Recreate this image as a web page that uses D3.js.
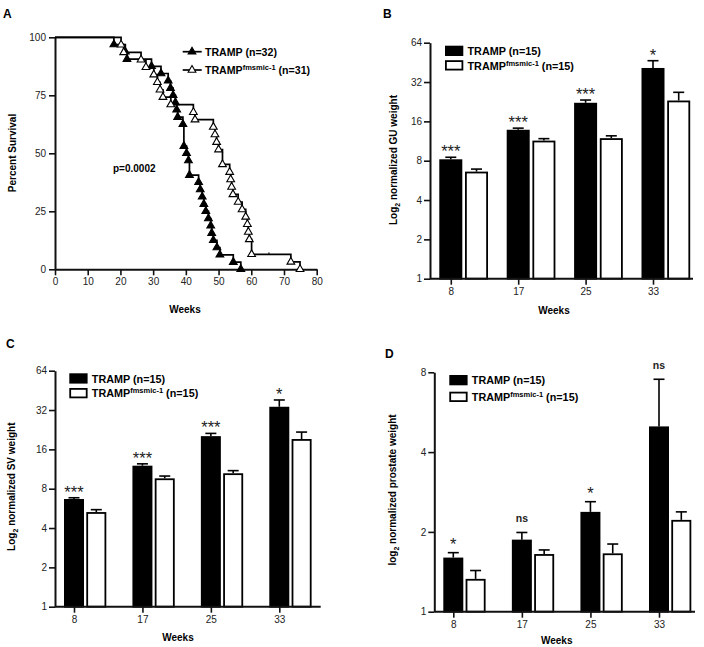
<!DOCTYPE html>
<html>
<head>
<meta charset="utf-8">
<script src="https://cdn.jsdelivr.net/npm/d3@7"></script>
<style>
body { margin: 0; background: #fff; }
svg { font-family: "Liberation Sans", Arial, Helvetica, sans-serif; }
</style>
</head>
<body>
<svg width="704" height="647"></svg>
<script>
// ---- panel A: survival (step events)
const trampTimes = [18, 21.5, 22, 29.5, 32.4, 34.6, 35.3, 36.1, 36.8, 37.2, 37.5, 39.1, 39.4, 40.2, 40.8, 41.1, 43.9, 44.4, 45.0, 45.5, 46.1, 46.9, 47.6, 47.9, 48.4, 49.5, 50.4, 54.5, 56.8]
const trampSurv = [96.9, 93.75, 90.6, 87.5, 84.4, 81.25, 78.1, 75, 71.9, 68.75, 65.6, 62.5, 53.1, 50, 46.9, 40.6, 37.5, 34.4, 31.25, 28.1, 25, 21.9, 18.75, 15.6, 12.5, 9.4, 6.25, 3.1, 0]
const koTimes = [20.2, 21.0, 26.3, 27.8, 30.2, 31.3, 32.1, 33.0, 35.4, 42.3, 42.8, 48.4, 48.9, 49.4, 50.0, 51.2, 53.4, 53.7, 54.0, 54.4, 56.0, 57.2, 58.3, 58.8, 59.1, 59.4, 60.1, 72.1, 74.9]
const koSurv = [96.8, 93.5, 90.3, 87.1, 83.9, 80.6, 77.4, 74.2, 71.0, 67.7, 64.5, 61.3, 58.1, 54.8, 51.6, 45.2, 41.9, 38.7, 35.5, 32.3, 29.0, 25.8, 22.6, 19.4, 16.1, 12.9, 6.45, 3.2, 0]
const koCensorTimes = [65.4]
const koCensorSurv = [6.45]
const survXTicks = [0, 10, 20, 30, 40, 50, 60, 70, 80]
const survYTicks = [0, 25, 50, 75, 100]
const pValue = 'p=0.0002'

// ---- panels B-D: bars
const weeks = [8, 17, 25, 33]
const guTramp = [8.2, 13.8, 22.2, 41.0]
const guTrampSem = [0.3, 0.4, 1.1, 5.6]
const guKo = [6.6, 11.4, 11.9, 23.1]
const guKoSem = [0.3, 0.4, 0.5, 3.6]
const guSig = ['***', '***', '***', '*']

const svTramp = [6.67, 12.0, 20.2, 33.9]
const svTrampSem = [0.15, 0.4, 1.0, 4.3]
const svKo = [5.3, 9.6, 10.5, 19.2]
const svKoSem = [0.23, 0.4, 0.5, 2.5]
const svSig = ['***', '***', '***', '*']

const prTramp = [1.60, 1.87, 2.38, 5.0]
const prTrampSem = [0.07, 0.12, 0.22, 2.53]
const prKo = [1.33, 1.65, 1.66, 2.22]
const prKoSem = [0.10, 0.06, 0.14, 0.16]
const prSig = ['*', 'ns', '*', 'ns']

const log2Ticks = [1, 2, 4, 8, 16, 32, 64]
const log2TicksSmall = [1, 2, 4, 8]

const svg = d3.select('svg')

const styleAxis = g => {
	g.select('.domain').attr('stroke', '#111').attr('stroke-width', 2)
	g.selectAll('.tick line').attr('stroke', '#111').attr('stroke-width', 1.6)
	g.selectAll('.tick text').attr('font-size', 10).attr('fill', '#222').attr('font-family', null)
}

const panelLabel = (t, x, y) => svg.append('text')
	.attr('x', x).attr('y', y)
	.attr('font-size', 12).attr('font-weight', 'bold')
	.text(t)

// text "TRAMP<sup>fmsmic-1</sup> (n=..)"
const koLabel = (sel, n) => {
	sel.append('tspan').text('TRAMP')
	sel.append('tspan').attr('font-size', 7.5).attr('dy', -4).text('fmsmic-1')
	sel.append('tspan').attr('dy', 4).text(` (n=${n})`)
}

const yTitle = (g, x, y, parts) => {
	const t = g.append('text')
		.attr('transform', `translate(${x},${y}) rotate(-90)`)
		.attr('text-anchor', 'middle')
		.attr('font-size', 10).attr('font-weight', 'bold')
	parts(t)
}

const xTitle = (g, x, y) => g.append('text')
	.attr('x', x).attr('y', y)
	.attr('text-anchor', 'middle')
	.attr('font-size', 10).attr('font-weight', 'bold')
	.text('Weeks')

// ================= A
panelLabel('A', 3, 18)
const ax = d3.scaleLinear().domain([0, 80]).range([55, 316.7])
const ay = d3.scaleLinear().domain([0, 100]).range([269.3, 37.3])
const gA = svg.append('g')

gA.append('g')
	.attr('transform', `translate(0,${ay(0)})`)
	.call(d3.axisBottom(ax).tickValues(survXTicks).tickSize(6).tickSizeOuter(0))
	.call(styleAxis)
gA.append('g')
	.attr('transform', `translate(${ax(0)},0)`)
	.call(d3.axisLeft(ay).tickValues(survYTicks).tickSize(6).tickSizeOuter(0))
	.call(styleAxis)

const stepLine = d3.line().x(d => ax(d[0])).y(d => ay(d[1])).curve(d3.curveStepAfter)
const tri = d3.symbol().type(d3.symbolTriangle).size(26)

const curves = [
	{ t: trampTimes, s: trampSurv, fill: '#000' },
	{ t: koTimes, s: koSurv, fill: '#fff' }
]
curves.forEach(c => {
	const pts = [[0, 100]].concat(c.t.map((t, i) => [t, c.s[i]]))
	gA.append('path')
		.attr('d', stepLine(pts))
		.attr('fill', 'none').attr('stroke', '#000').attr('stroke-width', 1.7)
})
curves.forEach(c => {
	gA.selectAll(null)
		.data(c.t.map((t, i) => [t, c.s[i]]))
		.enter().append('path')
		.attr('d', tri)
		.attr('transform', d => `translate(${ax(d[0])},${ay(d[1])})`)
		.attr('fill', c.fill).attr('stroke', '#000').attr('stroke-width', 1.1)
})
gA.selectAll(null)
	.data(koCensorTimes.map((t, i) => [t, koCensorSurv[i]]))
	.enter().append('line')
	.attr('x1', d => ax(d[0])).attr('x2', d => ax(d[0]))
	.attr('y1', d => ay(d[1]) - 2).attr('y2', d => ay(d[1]))
	.attr('stroke', '#000').attr('stroke-width', 1)

// legend A
const legA = [
	{ fill: '#000', y: 51.7, label: t => t.text('TRAMP (n=32)') },
	{ fill: '#fff', y: 70, label: t => koLabel(t, 31) }
]
legA.forEach(l => {
	gA.append('line').attr('x1', 182.7).attr('x2', 201.7).attr('y1', l.y).attr('y2', l.y)
		.attr('stroke', '#000').attr('stroke-width', 1.7)
	gA.append('path').attr('d', tri).attr('transform', `translate(192,${l.y})`)
		.attr('fill', l.fill).attr('stroke', '#000').attr('stroke-width', 1.1)
	const t = gA.append('text').attr('x', 205).attr('y', l.y + 3.8)
		.attr('font-size', 10.6).attr('font-weight', 'bold')
	l.label(t)
})

gA.append('text').attr('x', 113).attr('y', 172)
	.attr('font-size', 10).attr('font-weight', 'bold').text(pValue)

yTitle(gA, 15.5, 153, t => t.text('Percent Survival'))
xTitle(gA, 185, 313)

// ================= bar panels
const barPanel = cfg => {
	const g = svg.append('g')
	const y = d3.scaleLog().base(2).domain(cfg.yDomain).range([cfg.yBottom, cfg.yTop])
	const x = d3.scalePoint().domain(weeks).range(cfg.xRange)
	const bw = cfg.barW

	const series = [
		{ mean: cfg.black, sem: cfg.blackSem, fill: '#000', dx: -bw / 2 },
		{ mean: cfg.white, sem: cfg.whiteSem, fill: '#fff', dx: bw / 2 + cfg.gap }
	]

	series.forEach(s => {
		const data = weeks.map((w, i) => ({ w, m: s.mean[i], e: s.sem[i] }))
		const cx = d => x(d.w) + s.dx + bw / 2
		// error bars (upper only)
		g.selectAll(null).data(data).enter().append('line')
			.attr('x1', cx).attr('x2', cx)
			.attr('y1', d => y(d.m)).attr('y2', d => y(d.m + d.e))
			.attr('stroke', '#000').attr('stroke-width', 1.6)
		g.selectAll(null).data(data).enter().append('line')
			.attr('x1', d => cx(d) - 5.5).attr('x2', d => cx(d) + 5.5)
			.attr('y1', d => y(d.m + d.e)).attr('y2', d => y(d.m + d.e))
			.attr('stroke', '#000').attr('stroke-width', 1.6)
		g.selectAll(null).data(data).enter().append('rect')
			.attr('x', d => x(d.w) + s.dx + 0.9)
			.attr('width', bw - 1.8)
			.attr('y', d => y(d.m) + 0.9)
			.attr('height', d => y(cfg.yDomain[0]) - y(d.m) - 0.9)
			.attr('fill', s.fill).attr('stroke', '#000').attr('stroke-width', 1.8)
	})

	// significance marks above the TRAMP bars
	g.selectAll(null).data(weeks).enter().append('text')
		.attr('x', w => x(w))
		.attr('y', (w, i) => {
			const top = y(cfg.black[i] + cfg.blackSem[i])
			return cfg.sig[i] === 'ns' ? top - cfg.nsGap : top - cfg.starGap
		})
		.attr('text-anchor', 'middle')
		.attr('font-size', (w, i) => cfg.sig[i] === 'ns' ? 10.5 : 16.5)
		.attr('font-weight', (w, i) => cfg.sig[i] === 'ns' ? 'bold' : null)
		.attr('fill', '#222')
		.text((w, i) => cfg.sig[i])

	// axes
	g.append('line')
		.attr('x1', cfg.axisX).attr('x2', cfg.axisEnd)
		.attr('y1', cfg.yBottom).attr('y2', cfg.yBottom)
		.attr('stroke', '#111').attr('stroke-width', 2)
	g.append('g')
		.attr('transform', `translate(0,${cfg.yBottom})`)
		.call(d3.axisBottom(x).tickSize(6).tickSizeOuter(0))
		.call(styleAxis)
		.call(a => a.select('.domain').remove())
	g.append('g')
		.attr('transform', `translate(${cfg.axisX},0)`)
		.call(d3.axisLeft(y).tickValues(cfg.yTicks).tickFormat(d3.format('d')).tickSize(6).tickPadding(2).tickSizeOuter(0))
		.call(styleAxis)

	// legend
	const leg = [
		{ fill: '#000', y: cfg.legY, label: t => t.text('TRAMP (n=15)') },
		{ fill: '#fff', y: cfg.legY + cfg.legDy, label: t => koLabel(t, 15) }
	]
	leg.forEach(l => {
		g.append('rect').attr('x', cfg.legX + 0.9).attr('y', l.y + 0.9)
			.attr('width', 16.5).attr('height', 8.5)
			.attr('fill', l.fill).attr('stroke', '#000').attr('stroke-width', 1.8)
		const t = g.append('text').attr('x', cfg.legX + 22.5).attr('y', l.y + 9.3)
			.attr('font-size', 10.8).attr('font-weight', 'bold')
		l.label(t)
	})

	yTitle(g, cfg.titleX, cfg.titleY, cfg.title)
	xTitle(g, cfg.weeksX, cfg.weeksY)
}

// ================= B
panelLabel('B', 383, 18)
barPanel({
	yDomain: [1, 64], yTicks: log2Ticks, yBottom: 278.7, yTop: 42.7,
	xRange: [450.8, 653], barW: 23, gap: 2.7, axisX: 430, axisEnd: 693,
	black: guTramp, blackSem: guTrampSem, white: guKo, whiteSem: guKoSem, sig: guSig,
	starGap: 0, nsGap: 10,
	legX: 445, legY: 45.7, legDy: 14.5,
	titleX: 396.5, titleY: 160,
	title: t => {
		t.append('tspan').text('Log')
		t.append('tspan').attr('font-size', 7).attr('dy', 3).text('2')
		t.append('tspan').attr('dy', -3).text(' normalized GU weight')
	},
	weeksX: 554, weeksY: 314
})

// ================= C
panelLabel('C', 6, 348)
barPanel({
	yDomain: [1, 64], yTicks: log2Ticks, yBottom: 606.7, yTop: 370.7,
	xRange: [74, 279.3], barW: 20, gap: 2.3, axisX: 55, axisEnd: 320.7,
	black: svTramp, blackSem: svTrampSem, white: svKo, whiteSem: svKoSem, sig: svSig,
	starGap: 0, nsGap: 10,
	legX: 69.3, legY: 373.3, legDy: 14.7,
	titleX: 15, titleY: 486.7,
	title: t => {
		t.append('tspan').text('Log')
		t.append('tspan').attr('font-size', 7).attr('dy', 3).text('2')
		t.append('tspan').attr('dy', -3).text(' normalized SV weight')
	},
	weeksX: 178, weeksY: 640.5
})

// ================= D
panelLabel('D', 385, 358)
barPanel({
	yDomain: [1, 8], yTicks: log2TicksSmall, yBottom: 611.7, yTop: 372.3,
	xRange: [453.3, 659], barW: 20, gap: 2.3, axisX: 434.3, axisEnd: 695,
	black: prTramp, blackSem: prTrampSem, white: prKo, whiteSem: prKoSem, sig: prSig,
	starGap: 3, nsGap: 10,
	legX: 449.3, legY: 375, legDy: 16.7,
	titleX: 396, titleY: 490,
	title: t => {
		t.append('tspan').text('log')
		t.append('tspan').attr('font-size', 7).attr('dy', 3).text('2')
		t.append('tspan').attr('dy', -3).text(' normalized prostate weight')
	},
	weeksX: 556.7, weeksY: 644
})
</script>
</body>
</html>
